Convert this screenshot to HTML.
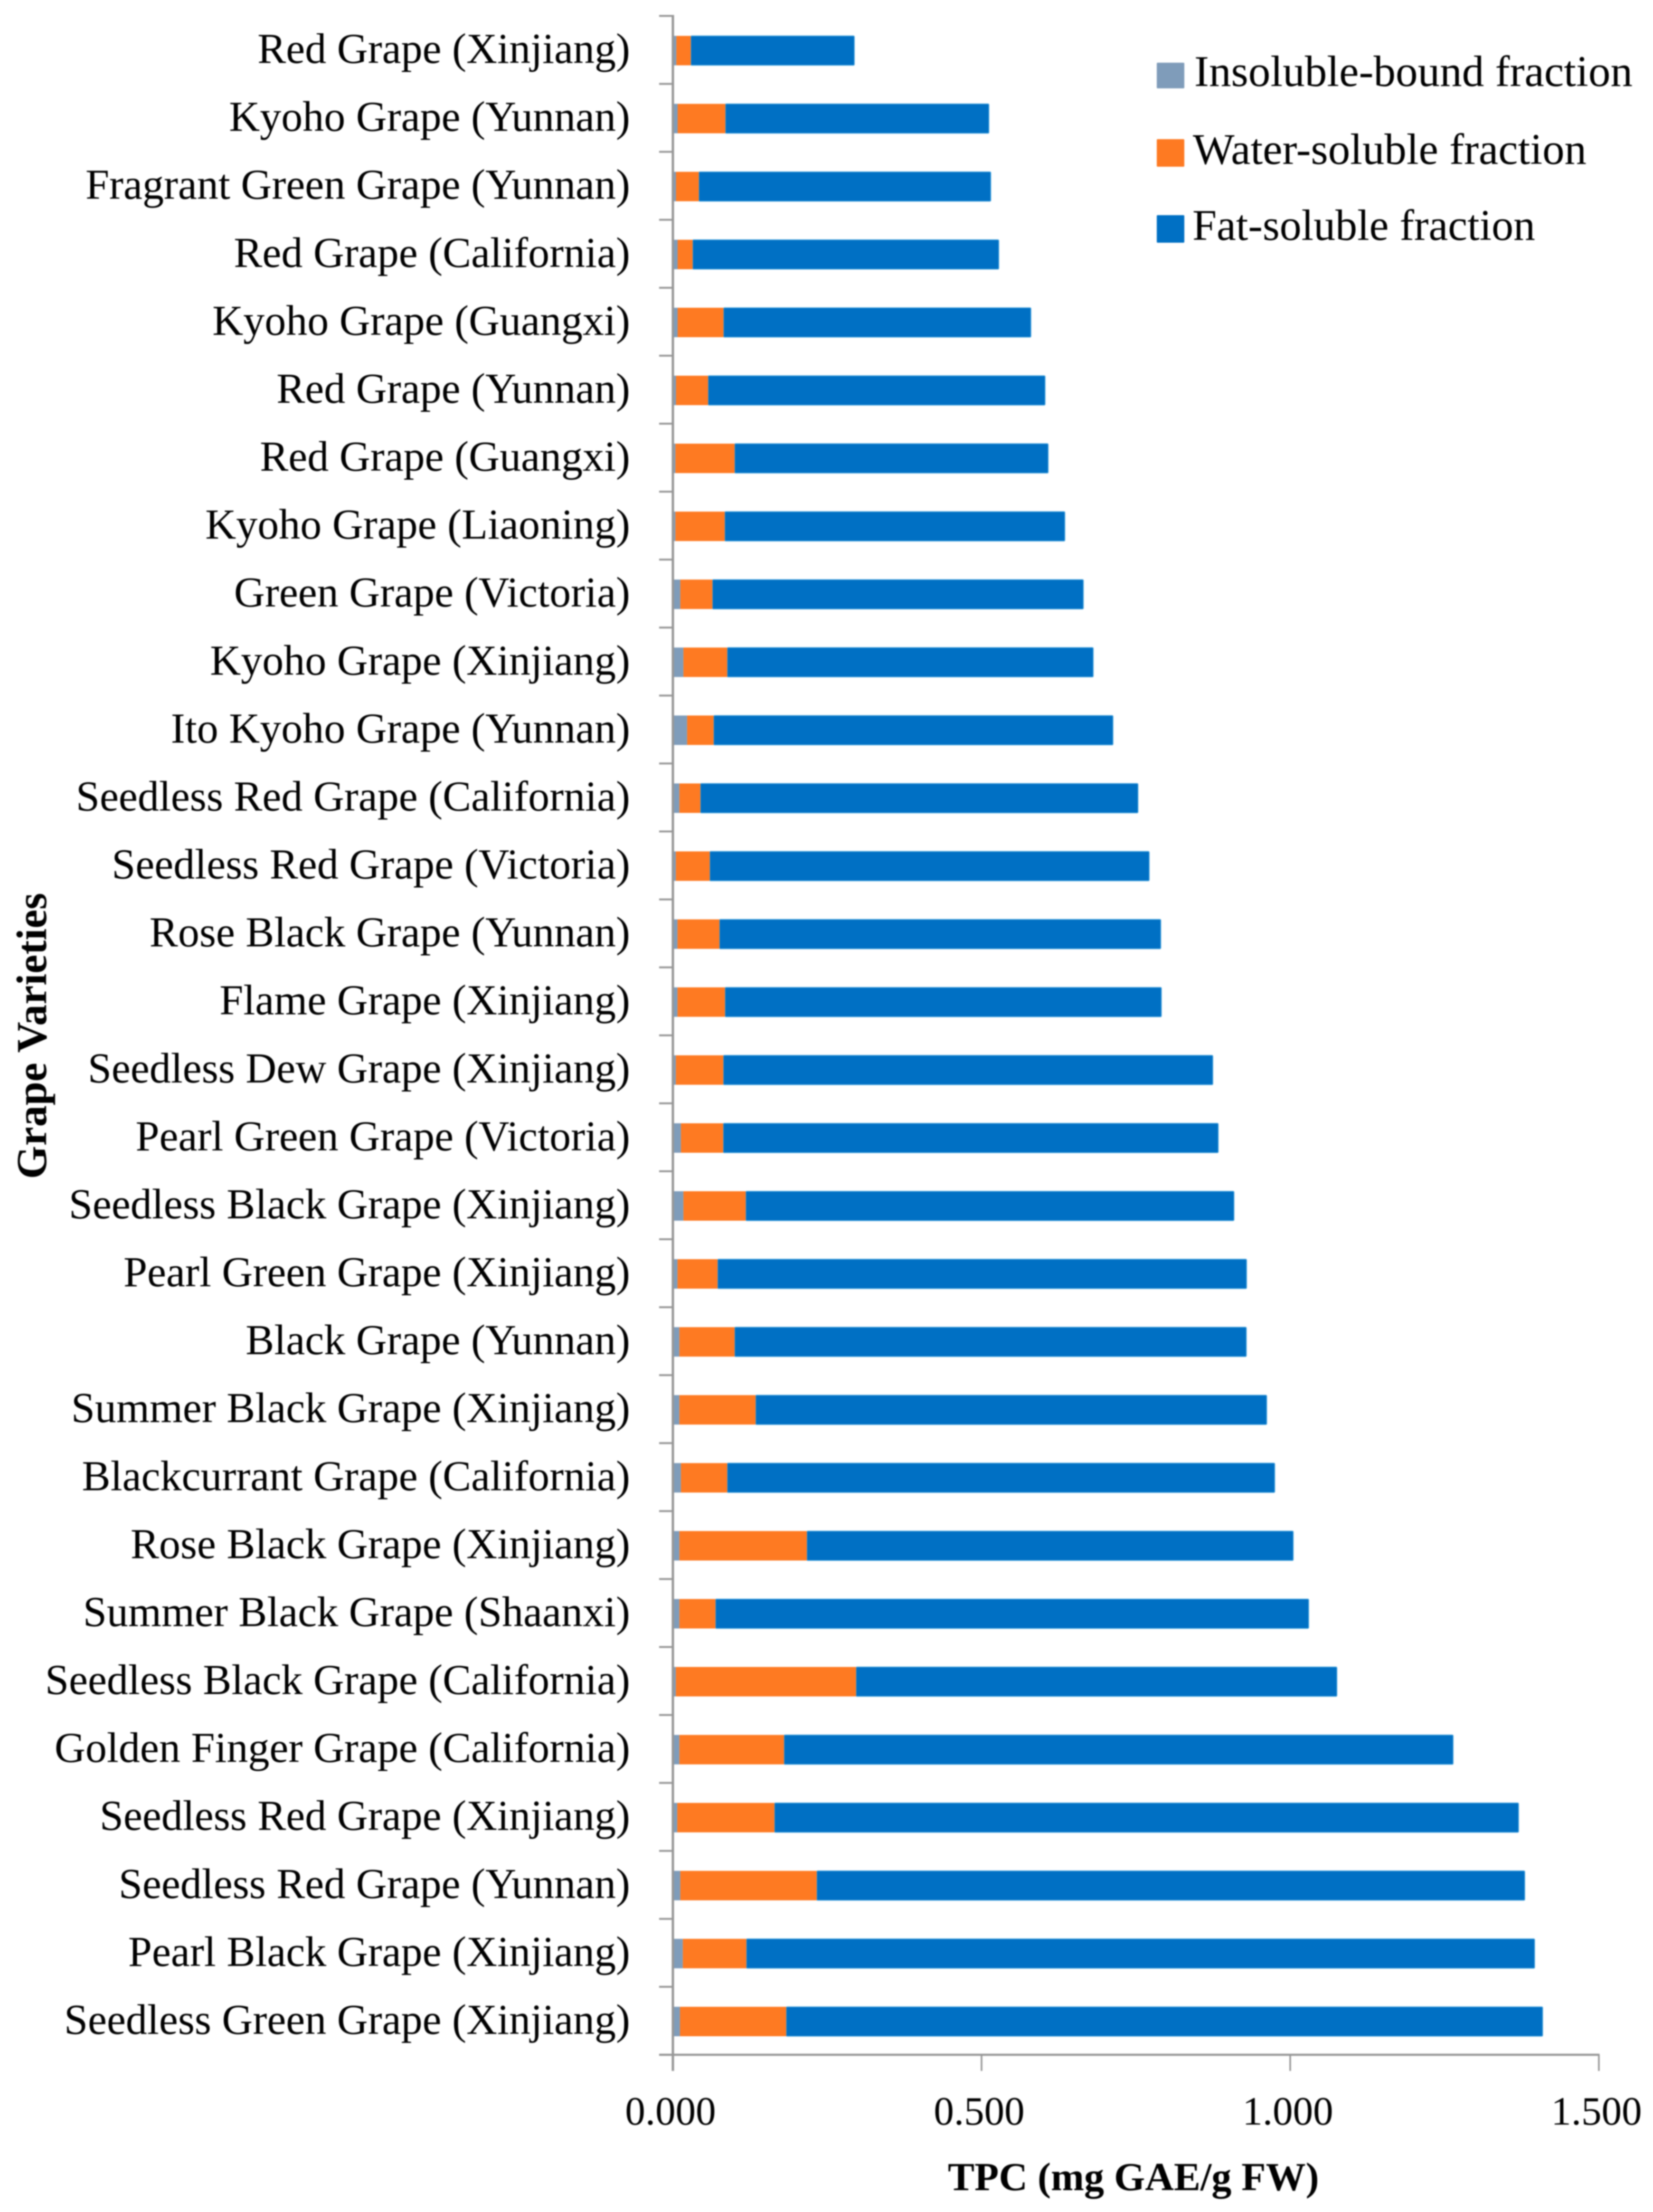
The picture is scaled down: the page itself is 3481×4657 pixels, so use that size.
<!DOCTYPE html>
<html lang="en">
<head>
<meta charset="utf-8">
<title>TPC by grape variety</title>
<style>
html,body{margin:0;padding:0;background:#fff;}
svg{display:block;filter:blur(1.2px);}
text{font-family:"Liberation Serif",serif;fill:#000;}
</style>
</head>
<body>
<svg id="chart" xmlns="http://www.w3.org/2000/svg" width="3481" height="4657" viewBox="0 0 3481 4657">
  <rect x="0" y="0" width="3481" height="4657" fill="#fff"/>
  <g id="bars"></g>
  <g id="axes"></g>
  <g id="labels"></g>
  <text transform="translate(97,2181) rotate(-90)" text-anchor="middle" font-size="90" font-weight="bold">Grape Varieties</text>
  <text x="1996" y="4611" font-size="84" font-weight="bold">TPC (mg GAE/g FW)</text>
  <g>
    <g>
      <rect x="2436" y="132" width="58" height="54" rx="2" fill="#7f9cba"/>
      <text x="2515" y="181" font-size="92" textLength="923" lengthAdjust="spacingAndGlyphs">Insoluble-bound fraction</text>
    </g>
    <g>
      <rect x="2436" y="293" width="58" height="58" rx="2" fill="#fe7a22"/>
      <text x="2512" y="345" font-size="92" textLength="829" lengthAdjust="spacingAndGlyphs">Water-soluble fraction</text>
    </g>
    <g>
      <rect x="2436" y="453" width="58" height="58" rx="2" fill="#0070c4"/>
      <text x="2511" y="505" font-size="92" textLength="722" lengthAdjust="spacingAndGlyphs">Fat-soluble fraction</text>
    </g>
  </g>
</svg>
<script>
const categories = [
  "Red Grape (Xinjiang)","Kyoho Grape (Yunnan)","Fragrant Green Grape (Yunnan)","Red Grape (California)",
  "Kyoho Grape (Guangxi)","Red Grape (Yunnan)","Red Grape (Guangxi)","Kyoho Grape (Liaoning)",
  "Green Grape (Victoria)","Kyoho Grape (Xinjiang)","Ito Kyoho Grape (Yunnan)","Seedless Red Grape (California)",
  "Seedless Red Grape (Victoria)","Rose Black Grape (Yunnan)","Flame Grape (Xinjiang)","Seedless Dew Grape (Xinjiang)",
  "Pearl Green Grape (Victoria)","Seedless Black Grape (Xinjiang)","Pearl Green Grape (Xinjiang)","Black Grape (Yunnan)",
  "Summer Black Grape (Xinjiang)","Blackcurrant Grape (California)","Rose Black Grape (Xinjiang)","Summer Black Grape (Shaanxi)",
  "Seedless Black Grape (California)","Golden Finger Grape (California)","Seedless Red Grape (Xinjiang)","Seedless Red Grape (Yunnan)",
  "Pearl Black Grape (Xinjiang)","Seedless Green Grape (Xinjiang)"
];
const insolubleBound = [0.0055,0.0077,0.005,0.0077,0.0077,0.005,0.004,0.004,0.012,0.017,0.023,0.0105,0.0047,0.0074,0.0074,0.0047,0.013,0.017,0.0074,0.0105,0.0105,0.013,0.0105,0.0105,0.0047,0.0105,0.007,0.012,0.016,0.0115];
const waterSoluble = [0.0235,0.0773,0.037,0.0243,0.0743,0.052,0.096,0.08,0.052,0.071,0.043,0.034,0.055,0.068,0.077,0.077,0.0685,0.101,0.065,0.0895,0.1235,0.075,0.2065,0.0585,0.292,0.1695,0.1575,0.221,0.103,0.172];
const fatSoluble = [0.265,0.427,0.473,0.496,0.498,0.546,0.508,0.551,0.601,0.593,0.647,0.709,0.712,0.715,0.707,0.793,0.802,0.791,0.857,0.829,0.828,0.887,0.788,0.961,0.779,1.084,1.2055,1.147,1.277,1.2255];
const xTickValues = [0, 0.5, 1.0, 1.5];
const xTickLabels = ["0.000","0.500","1.000","1.500"];

const NS = "http://www.w3.org/2000/svg";
const plotLeft = 1417, plotRight = 3367, plotTop = 33.5, plotBottom = 4326, xMax = 1.5;
const barHeight = 62;
function xScale(v){ return plotLeft + (v / xMax) * (plotRight - plotLeft); }
function bandY(i){ return plotTop + (plotBottom - plotTop) * i / categories.length; }
function bandCenter(i){ return bandY(i + 0.5) + 1.5; }
function make(tag, attrs){
  const el = document.createElementNS(NS, tag);
  for (const k in attrs) el.setAttribute(k, attrs[k]);
  return el;
}
const barsG = document.getElementById("bars");
const axesG = document.getElementById("axes");
const labelsG = document.getElementById("labels");

categories.forEach(function(name, i){
  const y = bandCenter(i) - barHeight / 2;
  const a = insolubleBound[i], b = waterSoluble[i], c = fatSoluble[i];

  const fatBar = make("rect", {x: xScale(a + b), y: y, width: xScale(a + b + c) - xScale(a + b), height: barHeight, rx: 2, fill: "#0070c4", stroke: "#4fa9e0", "stroke-width": 1.5});
  
  
  barsG.appendChild(fatBar);

  const waterBar = make("rect", {x: xScale(a), y: y, width: xScale(a + b) - xScale(a), height: barHeight, fill: "#fe7a22"});
  
  
  barsG.appendChild(waterBar);

  const insolubleBar = make("rect", {x: xScale(0), y: y, width: xScale(a) - xScale(0), height: barHeight, fill: "#7f9cba"});
  
  
  barsG.appendChild(insolubleBar);

  const label = make("text", {x: 1327, y: bandCenter(i) + 26, "text-anchor": "end", "font-size": 90});
  label.textContent = name;
  
  
  labelsG.appendChild(label);
});

for (let i = 0; i <= categories.length; i++) {
  const tick = make("line", {x1: 1388, x2: plotLeft, y1: bandY(i), y2: bandY(i), stroke: "#979797", "stroke-width": 4});
  
  
  axesG.appendChild(tick);
}

const yLine = make("line", {x1: plotLeft, x2: plotLeft, y1: plotTop - 2, y2: 4360, stroke: "#979797", "stroke-width": 5});


axesG.appendChild(yLine);

const xLine = make("line", {x1: 1388, x2: plotRight + 1.5, y1: plotBottom, y2: plotBottom, stroke: "#979797", "stroke-width": 4.5});


axesG.appendChild(xLine);

xTickValues.forEach(function(v, i){
  const tick = make("line", {x1: xScale(v), x2: xScale(v), y1: plotBottom, y2: 4360, stroke: "#979797", "stroke-width": 3.5});
  
  
  axesG.appendChild(tick);

  const t = make("text", {x: xScale(v) - 5, y: 4473, "text-anchor": "middle", "font-size": 85});
  t.textContent = xTickLabels[i];
  
  
  axesG.appendChild(t);
});
</script>
</body>
</html>
